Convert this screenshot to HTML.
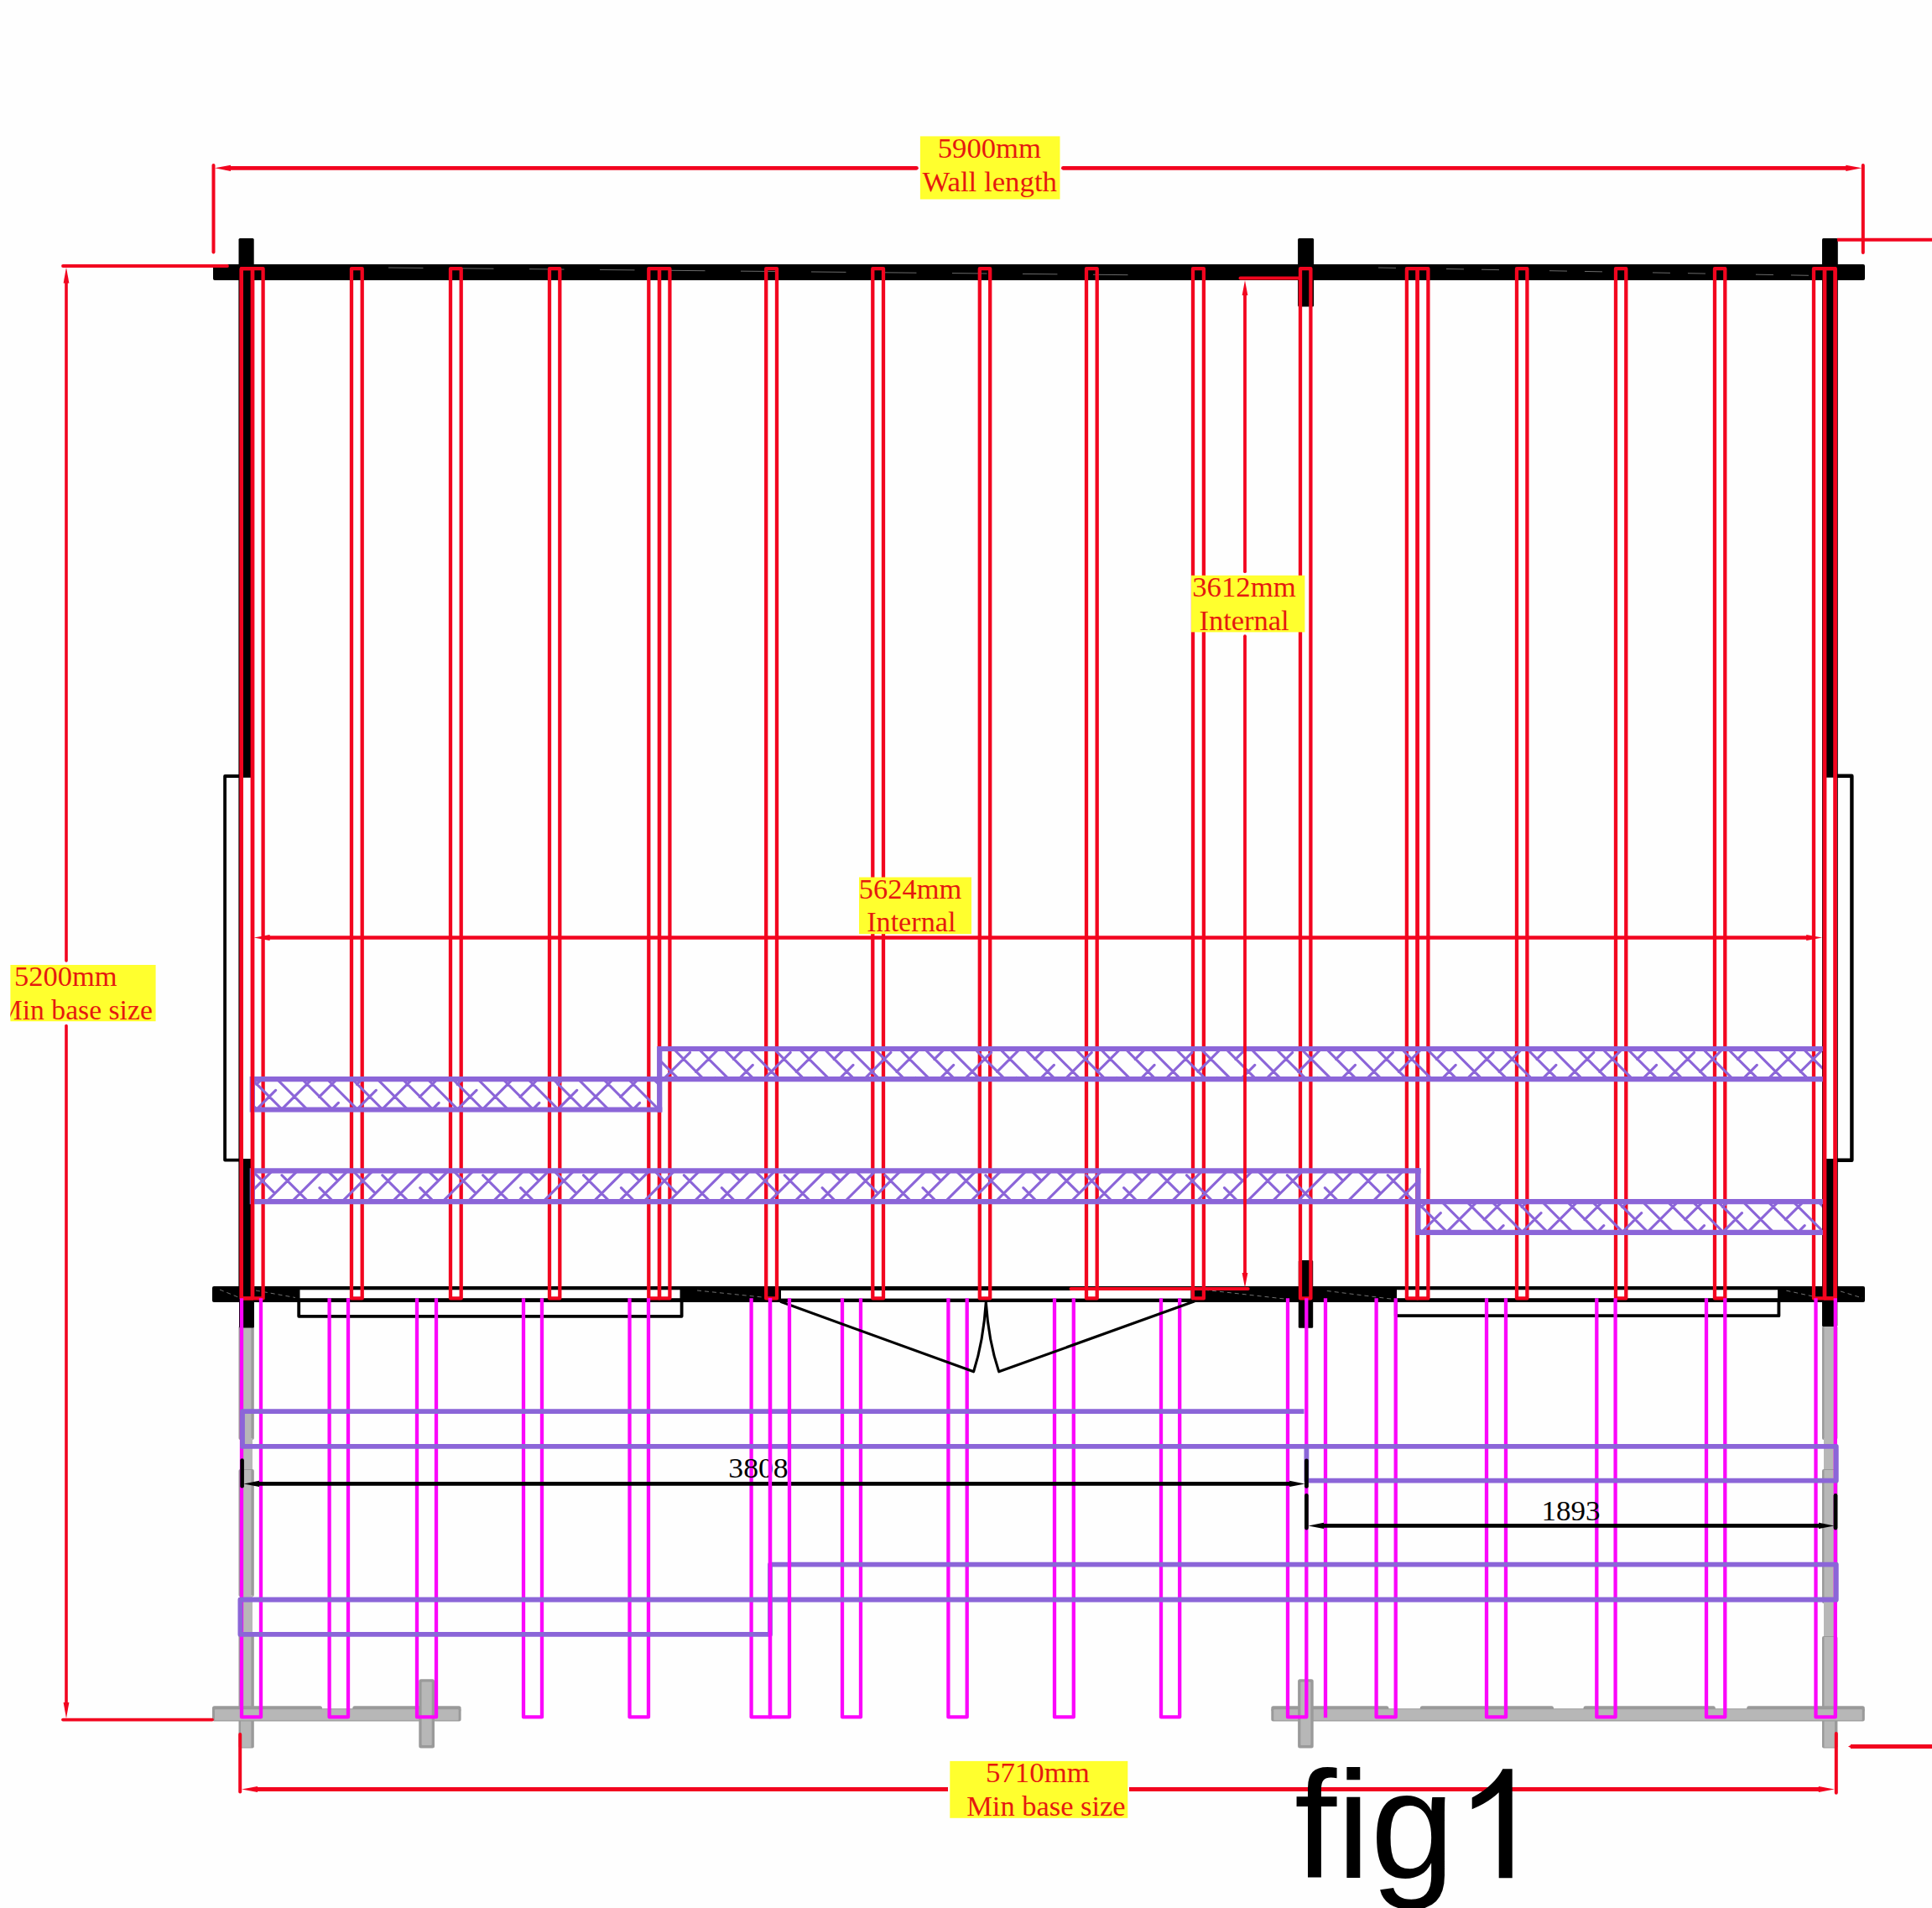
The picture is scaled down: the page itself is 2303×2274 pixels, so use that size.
<!DOCTYPE html>
<html><head><meta charset="utf-8"><title>fig1</title>
<style>
html,body{margin:0;padding:0;background:#fefefe;}
body{width:2303px;height:2274px;overflow:hidden;font-family:"Liberation Sans",sans-serif;}
svg{display:block;}
</style></head><body>
<svg width="2303" height="2274" viewBox="0 0 2303 2274">
<rect x="0" y="0" width="2303" height="2274" fill="#fefefe"/>
<g id="gray">
<rect x="284.5" y="1580" width="18.3" height="136" fill="#9a9a9a" rx="2"/>
<rect x="287" y="1581" width="12.4" height="134" fill="#b7b7b7" />
<rect x="289.5" y="1714" width="11.5" height="39" fill="#b7b7b7" />
<rect x="284.5" y="1751" width="18.3" height="152" fill="#9a9a9a" rx="2"/>
<rect x="287" y="1752" width="12.4" height="150" fill="#b7b7b7" />
<rect x="289.5" y="1901" width="11.5" height="48" fill="#b7b7b7" />
<rect x="284.5" y="1947" width="18.3" height="136.5" fill="#9a9a9a" rx="2"/>
<rect x="287" y="1948" width="12.4" height="134.5" fill="#b7b7b7" />
<rect x="2172" y="1580" width="18.4" height="136" fill="#9a9a9a" rx="2"/>
<rect x="2174.5" y="1581" width="12.5" height="134" fill="#b7b7b7" />
<rect x="2174" y="1714" width="13.5" height="39" fill="#b7b7b7" />
<rect x="2172" y="1751" width="18.4" height="160" fill="#9a9a9a" rx="2"/>
<rect x="2174.5" y="1752" width="12.5" height="158" fill="#b7b7b7" />
<rect x="2174" y="1909" width="13.5" height="43" fill="#b7b7b7" />
<rect x="2172" y="1950" width="18.4" height="133.5" fill="#9a9a9a" rx="2"/>
<rect x="2174.5" y="1951" width="12.5" height="131.5" fill="#b7b7b7" />
<rect x="253" y="2036.2" width="296.6" height="15.3" fill="#9a9a9a" rx="2.5"/>
<rect x="253" y="2033.3" width="131" height="6.7" fill="#9a9a9a" rx="2.5"/>
<rect x="420.3" y="2033.3" width="129.3" height="6.7" fill="#9a9a9a" rx="2.5"/>
<rect x="256" y="2037.2" width="290.6" height="13" fill="#b7b7b7" rx="1"/>
<rect x="499.3" y="2001.3" width="18.7" height="82.1" fill="#9a9a9a" rx="2.5"/>
<rect x="502.6" y="2004.6" width="12.1" height="75.5" fill="#b7b7b7" rx="1"/>
<rect x="1515.3" y="2036.2" width="707.5" height="15.3" fill="#9a9a9a" rx="2.5"/>
<rect x="1515.3" y="2033.3" width="140.1" height="6.7" fill="#9a9a9a" rx="2.5"/>
<rect x="1692.8" y="2033.3" width="159.2" height="6.7" fill="#9a9a9a" rx="2.5"/>
<rect x="1887.5" y="2033.3" width="157.3" height="6.7" fill="#9a9a9a" rx="2.5"/>
<rect x="2082.2" y="2033.3" width="140.6" height="6.7" fill="#9a9a9a" rx="2.5"/>
<rect x="1518.3" y="2037.2" width="701.5" height="13" fill="#b7b7b7" rx="1"/>
<rect x="1547.1" y="2001.3" width="18.6" height="82.1" fill="#9a9a9a" rx="2.5"/>
<rect x="1550.4" y="2004.6" width="12" height="75.5" fill="#b7b7b7" rx="1"/>
</g>
<g id="walls" fill="#000000">
<rect x="254" y="315" width="1969" height="19" fill="#000000" rx="2"/>
<rect x="284.5" y="284" width="18.2" height="36" fill="#000000" rx="1.5"/>
<rect x="1547.1" y="284" width="19" height="81.6" fill="#000000" rx="1.5"/>
<rect x="2172" y="284" width="18.8" height="36" fill="#000000" rx="1.5"/>
<rect x="284.4" y="315" width="14.6" height="611.8" fill="#000000" />
<rect x="284.4" y="1381" width="14.6" height="171" fill="#000000" />
<rect x="284.4" y="925" width="1.8" height="458" fill="#000000" />
<rect x="2172" y="315" width="18.8" height="611.7" fill="#000000" />
<rect x="2172" y="1381" width="18.8" height="171" fill="#000000" />
<rect x="2172" y="925" width="1.6" height="458" fill="#000000" />
<rect x="2189.6" y="925" width="1.2" height="458" fill="#000000" />
<rect x="253" y="1533" width="1970" height="19" fill="#000000" rx="2"/>
<rect x="357.5" y="1537.3" width="453" height="9.9" fill="#fff" />
<rect x="931" y="1538" width="488.4" height="9.6" fill="#fff" />
<rect x="1665" y="1537.3" width="454" height="9.9" fill="#fff" />
<rect x="285" y="1533" width="18" height="49.5" fill="#000000" rx="1.5"/>
<rect x="1547.8" y="1502" width="17.4" height="80.8" fill="#000000" rx="1.5"/>
<rect x="2172" y="1533" width="18.3" height="48" fill="#000000" rx="1.5"/>
</g>
<line x1="463" y1="319" x2="1348" y2="327.7" stroke="#6a6a6a" stroke-width="1" stroke-dasharray="41.5 42.5"/>
<line x1="1643" y1="319" x2="2172" y2="328.6" stroke="#6a6a6a" stroke-width="1" stroke-dasharray="21 60 21 21"/>
<path d="M262 1537L284 1546M305 1538L352 1546.5M831 1538L928 1548M1436 1537.3L1531 1548M1581.8 1538.5L1660 1548.3M2129.4 1538.2L2161 1545M2194 1539L2220 1547" fill="none" stroke="#707070" stroke-width="1" stroke-dasharray="5 4"/>
<g fill="none" stroke="#000000" stroke-width="3.8" stroke-linejoin="round">
<path d="M356.2 1550 V1568.8 H812.6 V1550" />
<path d="M1663.8 1550 V1568.2 H2120.4 V1550" />
<path d="M286 925 H268.1 V1382.6 H286" />
<path d="M2190 924.8 H2207.4 V1382.7 H2190" stroke-width="4.4" />
</g>
<g id="joists" fill="none" stroke="#f2051f" stroke-width="4.3" stroke-linejoin="round">
<rect x="287.8" y="320.2" width="13.2" height="1227.2" />
<rect x="301" y="320.2" width="12.6" height="1227.2" />
<rect x="419" y="320.2" width="12.7" height="1227.2" />
<rect x="537" y="320.2" width="12.7" height="1227.2" />
<rect x="655" y="320.2" width="12.3" height="1227.2" />
<rect x="773.3" y="320.2" width="12.7" height="1227.2" />
<rect x="786" y="320.2" width="12.4" height="1227.2" />
<rect x="913.2" y="320.2" width="12.8" height="1227.2" />
<rect x="1040.3" y="320.2" width="12.7" height="1227.2" />
<rect x="1167.8" y="320.2" width="12.4" height="1227.2" />
<rect x="1295" y="320.2" width="12.7" height="1227.2" />
<rect x="1422" y="320.2" width="12.9" height="1227.2" />
<rect x="1550" y="320.2" width="12.4" height="1227.2" />
<rect x="1676.9" y="320.2" width="12.7" height="1227.2" />
<rect x="1689.6" y="320.2" width="12.8" height="1227.2" />
<rect x="1808" y="320.2" width="12.4" height="1227.2" />
<rect x="1926" y="320.2" width="12.3" height="1227.2" />
<rect x="2044" y="320.2" width="12.3" height="1227.2" />
<rect x="2162" y="320.2" width="13" height="1227.2" />
<rect x="2175" y="320.2" width="12.6" height="1227.2" />
</g>
<line x1="318" y1="1117.5" x2="2158" y2="1117.5" stroke="#f2051f" stroke-width="4.7" />
<polygon points="302.6,1117.5 321.6,1113.9 321.6,1121.1" fill="#f2051f"/>
<polygon points="2172.2,1117.5 2153.2,1121.1 2153.2,1113.9" fill="#f2051f"/>
<defs>
<clipPath id="cb1"><rect x="300.8" y="1286.2" width="485.4" height="36.3"/></clipPath>
<clipPath id="cb2"><rect x="786.2" y="1250" width="1385.8" height="36.2"/></clipPath>
<clipPath id="cb3"><rect x="300.8" y="1395.3" width="1389.6" height="36.8"/></clipPath>
<clipPath id="cb4"><rect x="1690.4" y="1432.1" width="481.6" height="36.7"/></clipPath>
</defs>
<g clip-path="url(#cb1)"><path d="M210.47 1286.2L246.77 1322.5M240.4 1286.2L276.7 1322.5M270.33 1286.2L306.62 1322.5M300.25 1286.2L336.55 1322.5M330.17 1286.2L366.47 1322.5M360.1 1286.2L396.4 1322.5M390.03 1286.2L426.33 1322.5M419.95 1286.2L456.25 1322.5M449.88 1286.2L486.17 1322.5M479.8 1286.2L516.1 1322.5M509.73 1286.2L546.02 1322.5M539.65 1286.2L575.95 1322.5M569.58 1286.2L605.88 1322.5M599.5 1286.2L635.8 1322.5M629.43 1286.2L665.73 1322.5M659.35 1286.2L695.65 1322.5M689.28 1286.2L725.58 1322.5M719.2 1286.2L755.5 1322.5M749.12 1286.2L785.42 1322.5M779.05 1286.2L815.35 1322.5M808.98 1286.2L845.27 1322.5M838.9 1286.2L875.2 1322.5M253.85 1284.4L215.85 1322.4M298.78 1269.4L260.78 1307.4M343.7 1254.4L305.7 1292.4M283.7 1314.4L245.7 1352.4M328.62 1299.4L290.62 1337.4M373.55 1284.4L335.55 1322.4M418.47 1269.4L380.47 1307.4M463.4 1254.4L425.4 1292.4M403.4 1314.4L365.4 1352.4M448.33 1299.4L410.33 1337.4M493.25 1284.4L455.25 1322.4M538.17 1269.4L500.17 1307.4M583.1 1254.4L545.1 1292.4M523.1 1314.4L485.1 1352.4M568.03 1299.4L530.03 1337.4M612.95 1284.4L574.95 1322.4M657.88 1269.4L619.88 1307.4M702.8 1254.4L664.8 1292.4M642.8 1314.4L604.8 1352.4M687.72 1299.4L649.72 1337.4M732.65 1284.4L694.65 1322.4M777.58 1269.4L739.58 1307.4M822.5 1254.4L784.5 1292.4M762.5 1314.4L724.5 1352.4M807.43 1299.4L769.43 1337.4M852.35 1284.4L814.35 1322.4M897.28 1269.4L859.28 1307.4" fill="none" stroke="#8b65d8" stroke-width="3.1" stroke-linecap="round"/></g>
<g clip-path="url(#cb2)"><path d="M712.92 1250L749.12 1286.2M742.85 1250L779.05 1286.2M772.77 1250L808.98 1286.2M802.7 1250L838.9 1286.2M832.62 1250L868.83 1286.2M862.55 1250L898.75 1286.2M892.48 1250L928.68 1286.2M922.4 1250L958.6 1286.2M952.33 1250L988.53 1286.2M982.25 1250L1018.45 1286.2M1012.17 1250L1048.38 1286.2M1042.1 1250L1078.3 1286.2M1072.03 1250L1108.22 1286.2M1101.95 1250L1138.15 1286.2M1131.88 1250L1168.08 1286.2M1161.8 1250L1198 1286.2M1191.72 1250L1227.93 1286.2M1221.65 1250L1257.85 1286.2M1251.58 1250L1287.78 1286.2M1281.5 1250L1317.7 1286.2M1311.42 1250L1347.62 1286.2M1341.35 1250L1377.55 1286.2M1371.28 1250L1407.48 1286.2M1401.2 1250L1437.4 1286.2M1431.12 1250L1467.33 1286.2M1461.05 1250L1497.25 1286.2M1490.97 1250L1527.17 1286.2M1520.9 1250L1557.1 1286.2M1550.83 1250L1587.03 1286.2M1580.75 1250L1616.95 1286.2M1610.67 1250L1646.88 1286.2M1640.6 1250L1676.8 1286.2M1670.53 1250L1706.73 1286.2M1700.45 1250L1736.65 1286.2M1730.38 1250L1766.58 1286.2M1760.3 1250L1796.5 1286.2M1790.22 1250L1826.42 1286.2M1820.15 1250L1856.35 1286.2M1850.08 1250L1886.28 1286.2M1880 1250L1916.2 1286.2M1909.93 1250L1946.13 1286.2M1939.85 1250L1976.05 1286.2M1969.78 1250L2005.98 1286.2M1999.7 1250L2035.9 1286.2M2029.62 1250L2065.82 1286.2M2059.55 1250L2095.75 1286.2M2089.48 1250L2125.68 1286.2M2119.4 1250L2155.6 1286.2M2149.32 1250L2185.53 1286.2M2179.25 1250L2215.45 1286.2M2209.18 1250L2245.38 1286.2M747.72 1239.4L709.72 1277.4M792.65 1224.4L754.65 1262.4M732.65 1284.4L694.65 1322.4M837.58 1209.4L799.58 1247.4M777.58 1269.4L739.58 1307.4M822.5 1254.4L784.5 1292.4M867.43 1239.4L829.43 1277.4M912.35 1224.4L874.35 1262.4M852.35 1284.4L814.35 1322.4M957.28 1209.4L919.28 1247.4M897.28 1269.4L859.28 1307.4M942.2 1254.4L904.2 1292.4M987.12 1239.4L949.12 1277.4M1032.05 1224.4L994.05 1262.4M972.05 1284.4L934.05 1322.4M1076.97 1209.4L1038.97 1247.4M1016.97 1269.4L978.97 1307.4M1061.9 1254.4L1023.9 1292.4M1106.82 1239.4L1068.82 1277.4M1151.75 1224.4L1113.75 1262.4M1091.75 1284.4L1053.75 1322.4M1196.68 1209.4L1158.68 1247.4M1136.68 1269.4L1098.68 1307.4M1181.6 1254.4L1143.6 1292.4M1226.53 1239.4L1188.53 1277.4M1271.45 1224.4L1233.45 1262.4M1211.45 1284.4L1173.45 1322.4M1316.38 1209.4L1278.38 1247.4M1256.38 1269.4L1218.38 1307.4M1301.3 1254.4L1263.3 1292.4M1346.22 1239.4L1308.22 1277.4M1391.15 1224.4L1353.15 1262.4M1331.15 1284.4L1293.15 1322.4M1436.08 1209.4L1398.08 1247.4M1376.08 1269.4L1338.08 1307.4M1421 1254.4L1383 1292.4M1465.93 1239.4L1427.93 1277.4M1510.85 1224.4L1472.85 1262.4M1450.85 1284.4L1412.85 1322.4M1555.78 1209.4L1517.78 1247.4M1495.78 1269.4L1457.78 1307.4M1540.7 1254.4L1502.7 1292.4M1585.62 1239.4L1547.62 1277.4M1630.55 1224.4L1592.55 1262.4M1570.55 1284.4L1532.55 1322.4M1675.47 1209.4L1637.47 1247.4M1615.47 1269.4L1577.47 1307.4M1660.4 1254.4L1622.4 1292.4M1705.33 1239.4L1667.33 1277.4M1750.25 1224.4L1712.25 1262.4M1690.25 1284.4L1652.25 1322.4M1795.18 1209.4L1757.18 1247.4M1735.18 1269.4L1697.18 1307.4M1780.1 1254.4L1742.1 1292.4M1825.03 1239.4L1787.03 1277.4M1869.95 1224.4L1831.95 1262.4M1809.95 1284.4L1771.95 1322.4M1914.88 1209.4L1876.88 1247.4M1854.88 1269.4L1816.88 1307.4M1899.8 1254.4L1861.8 1292.4M1944.72 1239.4L1906.72 1277.4M1989.65 1224.4L1951.65 1262.4M1929.65 1284.4L1891.65 1322.4M2034.58 1209.4L1996.58 1247.4M1974.58 1269.4L1936.58 1307.4M2019.5 1254.4L1981.5 1292.4M2064.42 1239.4L2026.42 1277.4M2109.35 1224.4L2071.35 1262.4M2049.35 1284.4L2011.35 1322.4M2154.28 1209.4L2116.28 1247.4M2094.28 1269.4L2056.28 1307.4M2139.2 1254.4L2101.2 1292.4M2184.12 1239.4L2146.12 1277.4M2229.05 1224.4L2191.05 1262.4M2169.05 1284.4L2131.05 1322.4M2273.97 1209.4L2235.97 1247.4M2213.97 1269.4L2175.97 1307.4M2258.9 1254.4L2220.9 1292.4" fill="none" stroke="#8b65d8" stroke-width="3.1" stroke-linecap="round"/></g>
<g clip-path="url(#cb3)"><path d="M264.82 1395.3L228.02 1432.1M294.78 1395.3L257.98 1432.1M324.74 1395.3L287.94 1432.1M354.7 1395.3L317.9 1432.1M384.66 1395.3L347.86 1432.1M414.62 1395.3L377.82 1432.1M444.58 1395.3L407.78 1432.1M474.54 1395.3L437.74 1432.1M504.5 1395.3L467.7 1432.1M534.46 1395.3L497.66 1432.1M564.42 1395.3L527.62 1432.1M594.38 1395.3L557.58 1432.1M624.34 1395.3L587.54 1432.1M654.3 1395.3L617.5 1432.1M684.26 1395.3L647.46 1432.1M714.22 1395.3L677.42 1432.1M744.18 1395.3L707.38 1432.1M774.14 1395.3L737.34 1432.1M804.1 1395.3L767.3 1432.1M834.06 1395.3L797.26 1432.1M864.02 1395.3L827.22 1432.1M893.98 1395.3L857.18 1432.1M923.94 1395.3L887.14 1432.1M953.9 1395.3L917.1 1432.1M983.86 1395.3L947.06 1432.1M1013.82 1395.3L977.02 1432.1M1043.78 1395.3L1006.98 1432.1M1073.74 1395.3L1036.94 1432.1M1103.7 1395.3L1066.9 1432.1M1133.66 1395.3L1096.86 1432.1M1163.62 1395.3L1126.82 1432.1M1193.58 1395.3L1156.78 1432.1M1223.54 1395.3L1186.74 1432.1M1253.5 1395.3L1216.7 1432.1M1283.46 1395.3L1246.66 1432.1M1313.42 1395.3L1276.62 1432.1M1343.38 1395.3L1306.58 1432.1M1373.34 1395.3L1336.54 1432.1M1403.3 1395.3L1366.5 1432.1M1433.26 1395.3L1396.46 1432.1M1463.22 1395.3L1426.42 1432.1M1493.18 1395.3L1456.38 1432.1M1523.14 1395.3L1486.34 1432.1M1553.1 1395.3L1516.3 1432.1M1583.06 1395.3L1546.26 1432.1M1613.02 1395.3L1576.22 1432.1M1642.98 1395.3L1606.18 1432.1M1672.94 1395.3L1636.14 1432.1M1702.9 1395.3L1666.1 1432.1M1732.86 1395.3L1696.06 1432.1M1762.82 1395.3L1726.02 1432.1M216.12 1400.7L252.12 1436.7M261.08 1415.7L297.08 1451.7M246.04 1370.7L282.04 1406.7M306.04 1430.7L342.04 1466.7M291 1385.7L327 1421.7M335.96 1400.7L371.96 1436.7M380.92 1415.7L416.92 1451.7M365.88 1370.7L401.88 1406.7M425.88 1430.7L461.88 1466.7M410.84 1385.7L446.84 1421.7M455.8 1400.7L491.8 1436.7M500.76 1415.7L536.76 1451.7M485.72 1370.7L521.72 1406.7M545.72 1430.7L581.72 1466.7M530.68 1385.7L566.68 1421.7M575.64 1400.7L611.64 1436.7M620.6 1415.7L656.6 1451.7M605.56 1370.7L641.56 1406.7M665.56 1430.7L701.56 1466.7M650.52 1385.7L686.52 1421.7M695.48 1400.7L731.48 1436.7M740.44 1415.7L776.44 1451.7M725.4 1370.7L761.4 1406.7M785.4 1430.7L821.4 1466.7M770.36 1385.7L806.36 1421.7M815.32 1400.7L851.32 1436.7M860.28 1415.7L896.28 1451.7M845.24 1370.7L881.24 1406.7M905.24 1430.7L941.24 1466.7M890.2 1385.7L926.2 1421.7M935.16 1400.7L971.16 1436.7M980.12 1415.7L1016.12 1451.7M965.08 1370.7L1001.08 1406.7M1025.08 1430.7L1061.08 1466.7M1010.04 1385.7L1046.04 1421.7M1055 1400.7L1091 1436.7M1099.96 1415.7L1135.96 1451.7M1084.92 1370.7L1120.92 1406.7M1144.92 1430.7L1180.92 1466.7M1129.88 1385.7L1165.88 1421.7M1174.84 1400.7L1210.84 1436.7M1219.8 1415.7L1255.8 1451.7M1204.76 1370.7L1240.76 1406.7M1264.76 1430.7L1300.76 1466.7M1249.72 1385.7L1285.72 1421.7M1294.68 1400.7L1330.68 1436.7M1339.64 1415.7L1375.64 1451.7M1324.6 1370.7L1360.6 1406.7M1384.6 1430.7L1420.6 1466.7M1369.56 1385.7L1405.56 1421.7M1414.52 1400.7L1450.52 1436.7M1459.48 1415.7L1495.48 1451.7M1444.44 1370.7L1480.44 1406.7M1504.44 1430.7L1540.44 1466.7M1489.4 1385.7L1525.4 1421.7M1534.36 1400.7L1570.36 1436.7M1579.32 1415.7L1615.32 1451.7M1564.28 1370.7L1600.28 1406.7M1624.28 1430.7L1660.28 1466.7M1609.24 1385.7L1645.24 1421.7M1654.2 1400.7L1690.2 1436.7M1699.16 1415.7L1735.16 1451.7M1684.12 1370.7L1720.12 1406.7M1744.12 1430.7L1780.12 1466.7M1729.08 1385.7L1765.08 1421.7" fill="none" stroke="#8b65d8" stroke-width="3.1" stroke-linecap="round"/></g>
<g clip-path="url(#cb4)"><path d="M1598.78 1432.1L1635.47 1468.8M1628.7 1432.1L1665.4 1468.8M1658.62 1432.1L1695.33 1468.8M1688.55 1432.1L1725.25 1468.8M1718.47 1432.1L1755.18 1468.8M1748.4 1432.1L1785.1 1468.8M1778.33 1432.1L1815.03 1468.8M1808.25 1432.1L1844.95 1468.8M1838.17 1432.1L1874.88 1468.8M1868.1 1432.1L1904.8 1468.8M1898.03 1432.1L1934.73 1468.8M1927.95 1432.1L1964.65 1468.8M1957.88 1432.1L1994.58 1468.8M1987.8 1432.1L2024.5 1468.8M2017.72 1432.1L2054.43 1468.8M2047.65 1432.1L2084.35 1468.8M2077.57 1432.1L2114.28 1468.8M2107.5 1432.1L2144.2 1468.8M2137.43 1432.1L2174.12 1468.8M2167.35 1432.1L2204.05 1468.8M2197.28 1432.1L2233.98 1468.8M2227.2 1432.1L2263.9 1468.8M1642.55 1430.7L1604.55 1468.7M1687.48 1415.7L1649.48 1453.7M1732.4 1400.7L1694.4 1438.7M1672.4 1460.7L1634.4 1498.7M1717.33 1445.7L1679.33 1483.7M1762.25 1430.7L1724.25 1468.7M1807.17 1415.7L1769.17 1453.7M1852.1 1400.7L1814.1 1438.7M1792.1 1460.7L1754.1 1498.7M1837.02 1445.7L1799.02 1483.7M1881.95 1430.7L1843.95 1468.7M1926.88 1415.7L1888.88 1453.7M1971.8 1400.7L1933.8 1438.7M1911.8 1460.7L1873.8 1498.7M1956.73 1445.7L1918.73 1483.7M2001.65 1430.7L1963.65 1468.7M2046.58 1415.7L2008.58 1453.7M2091.5 1400.7L2053.5 1438.7M2031.5 1460.7L1993.5 1498.7M2076.43 1445.7L2038.42 1483.7M2121.35 1430.7L2083.35 1468.7M2166.27 1415.7L2128.27 1453.7M2211.2 1400.7L2173.2 1438.7M2151.2 1460.7L2113.2 1498.7M2196.12 1445.7L2158.12 1483.7M2241.05 1430.7L2203.05 1468.7" fill="none" stroke="#8b65d8" stroke-width="3.1" stroke-linecap="round"/></g>
<g fill="none" stroke="#8b65d8" stroke-width="6.2" stroke-linejoin="miter" stroke-linecap="square">
<path d="M2173 1250 H786.2 V1286.2 H300.8 V1322.5 H786.2" />
<path d="M786.2 1322.5 V1286.2 H2173" />
<path d="M2173 1468.8 H1690.4 V1432.1 H300.8 V1395.3 H1690.4" />
<path d="M1690.4 1395.3 V1432.1 H2173" />
</g>
<rect x="287.8" y="320.2" width="13.2" height="1227.2" fill="none" stroke="#f2051f" stroke-width="4.3" stroke-linejoin="round"/>
<rect x="2175" y="320.2" width="12.6" height="1227.2" fill="none" stroke="#f2051f" stroke-width="4.3" stroke-linejoin="round"/>
<line x1="1484" y1="350" x2="1484" y2="681.2" stroke="#f2051f" stroke-width="3.8" stroke-linecap="round"/>
<line x1="1484" y1="758.2" x2="1484" y2="1520" stroke="#f2051f" stroke-width="3.8" stroke-linecap="round"/>
<polygon points="1484,334 1487.4,352 1480.6,352" fill="#f2051f"/>
<polygon points="1484,1535 1480.6,1517 1487.4,1517" fill="#f2051f"/>
<line x1="1478.5" y1="331.6" x2="1550" y2="331.6" stroke="#f2051f" stroke-width="4" stroke-linecap="round"/>
<line x1="1276.5" y1="1536" x2="1487.7" y2="1536" stroke="#f2051f" stroke-width="4" stroke-linecap="round"/>
<g id="mj" fill="none" stroke="#fb06fb" stroke-width="4.3" stroke-linejoin="round">
<path d="M288 1547.3 V2046.4 H311 V1547.3" />
<path d="M392.6 1547.3 V2046.4 H415 V1547.3" />
<path d="M497 1547.3 V2046.4 H520 V1547.3" />
<path d="M624 1547.3 V2046.4 H646 V1547.3" />
<path d="M750.5 1547.3 V2046.4 H773 V1547.3" />
<path d="M895.6 1547.3 V2046.4 H918 V1547.3" />
<path d="M1004 1547.3 V2046.4 H1026 V1547.3" />
<path d="M1130.4 1547.3 V2046.4 H1152.7 V1547.3" />
<path d="M1257 1547.3 V2046.4 H1279.8 V1547.3" />
<path d="M1384 1547.3 V2046.4 H1406.2 V1547.3" />
<path d="M1535 1547.3 V2046.4 H1557.3 V1547.3" />
<path d="M1580 1547.3 V2047.3" />
<path d="M1640.6 1547.3 V2046.4 H1663.7 V1547.3" />
<path d="M1772 1547.3 V2046.4 H1795 V1547.3" />
<path d="M1903.3 1547.3 V2046.4 H1925.6 V1547.3" />
<path d="M2034 1547.3 V2046.4 H2056.3 V1547.3" />
<path d="M2164.5 1547.3 V2046.4 H2187.8 V1547.3" />
</g>
<g fill="none" stroke="#8b65d8" stroke-width="5.8" stroke-linejoin="round">
<path d="M1554.5 1682.2 H289 V1723.9 H1557" />
<rect x="1557.4" y="1723.9" width="631.4" height="40.8" />
<rect x="286.4" y="1906.5" width="631.6" height="41.4" />
<rect x="918" y="1864.6" width="1270.8" height="41.9" />
</g>
<g fill="none" stroke="#000000" stroke-width="3.1" stroke-linejoin="round" stroke-linecap="round">
<path d="M931 1551.5 L1160.6 1634.8 Q1172.3 1598 1175.3 1552 Q1178.3 1598 1190.7 1634.8 L1423.5 1551" />
</g>
<line x1="305" y1="1768.4" x2="1540" y2="1768.4" stroke="#000000" stroke-width="4.6" />
<polygon points="290.5,1768.4 309,1764.7 309,1772.1" fill="#000000"/>
<polygon points="1555.6,1768.4 1537.1,1772.1 1537.1,1764.7" fill="#000000"/>
<line x1="288.6" y1="1740.5" x2="288.6" y2="1771.3" stroke="#000000" stroke-width="4.6" stroke-linecap="round"/>
<line x1="1557.4" y1="1740.8" x2="1557.4" y2="1771.4" stroke="#000000" stroke-width="4.8" stroke-linecap="round"/>
<line x1="1574" y1="1818.4" x2="2173" y2="1818.4" stroke="#000000" stroke-width="4.6" />
<polygon points="1559.5,1818.4 1578,1814.7 1578,1822.1" fill="#000000"/>
<polygon points="2186.5,1818.4 2168,1822.1 2168,1814.7" fill="#000000"/>
<line x1="1557.4" y1="1782.4" x2="1557.4" y2="1821" stroke="#000000" stroke-width="4.8" stroke-linecap="round"/>
<line x1="2188" y1="1782.4" x2="2188" y2="1821" stroke="#000000" stroke-width="4.8" stroke-linecap="round"/>
<line x1="270" y1="200.3" x2="1092.4" y2="200.3" stroke="#f2051f" stroke-width="4.8" stroke-linecap="round"/>
<line x1="1267.4" y1="200.3" x2="2204" y2="200.3" stroke="#f2051f" stroke-width="4.8" stroke-linecap="round"/>
<polygon points="256,200.3 275,196.7 275,203.9" fill="#f2051f"/>
<polygon points="2219.3,200.3 2200.3,203.9 2200.3,196.7" fill="#f2051f"/>
<line x1="254.5" y1="197" x2="254.5" y2="300.5" stroke="#f2051f" stroke-width="4" stroke-linecap="round"/>
<line x1="2220.8" y1="197" x2="2220.8" y2="301" stroke="#f2051f" stroke-width="4" stroke-linecap="round"/>
<line x1="79" y1="334" x2="79" y2="1145" stroke="#f2051f" stroke-width="3.6" stroke-linecap="round"/>
<line x1="79" y1="1222.5" x2="79" y2="2032" stroke="#f2051f" stroke-width="3.6" stroke-linecap="round"/>
<polygon points="79,318.5 82.4,337.5 75.6,337.5" fill="#f2051f"/>
<polygon points="79,2048 75.6,2029 82.4,2029" fill="#f2051f"/>
<line x1="75" y1="317" x2="271" y2="317" stroke="#f2051f" stroke-width="3.8" stroke-linecap="round"/>
<line x1="75" y1="2049.6" x2="253" y2="2049.6" stroke="#f2051f" stroke-width="3.8" stroke-linecap="round"/>
<line x1="303" y1="2132.5" x2="1130" y2="2132.5" stroke="#f2051f" stroke-width="4.8" />
<line x1="1346" y1="2132.5" x2="2171" y2="2132.5" stroke="#f2051f" stroke-width="4.8" />
<polygon points="288,2132.5 307,2128.9 307,2136.1" fill="#f2051f"/>
<polygon points="2186.8,2132.5 2167.8,2136.1 2167.8,2128.9" fill="#f2051f"/>
<line x1="286.2" y1="2067" x2="286.2" y2="2135.5" stroke="#f2051f" stroke-width="4" stroke-linecap="round"/>
<line x1="2188.8" y1="2066" x2="2188.8" y2="2136.8" stroke="#f2051f" stroke-width="4" stroke-linecap="round"/>
<line x1="2190" y1="285.8" x2="2303" y2="285.8" stroke="#f2051f" stroke-width="4" />
<line x1="2206" y1="2081.6" x2="2303" y2="2081.6" stroke="#f2051f" stroke-width="5" />
<polygon points="2203,2081.6 2208,2079.1 2208,2084.1" fill="#f2051f"/>
<rect x="1096.9" y="162.4" width="166.6" height="75.1" fill="#ffff2e" />
<text x="1117.8" y="188.4" textLength="123.2" lengthAdjust="spacingAndGlyphs" fill="#e5190f" font-family="'Liberation Serif', serif" font-size="33.5">5900mm</text>
<text x="1099.4" y="227.6" textLength="160.6" lengthAdjust="spacingAndGlyphs" fill="#e5190f" font-family="'Liberation Serif', serif" font-size="33.5">Wall length</text>
<rect x="1420" y="685.8" width="135.4" height="67.6" fill="#ffff2e" />
<text x="1421.2" y="711" textLength="123.6" lengthAdjust="spacingAndGlyphs" fill="#e5190f" font-family="'Liberation Serif', serif" font-size="33.5">3612mm</text>
<text x="1429.4" y="750.6" textLength="107.3" lengthAdjust="spacingAndGlyphs" fill="#e5190f" font-family="'Liberation Serif', serif" font-size="33.5">Internal</text>
<rect x="1024" y="1045.5" width="134" height="67.7" fill="#ffff2e" />
<text x="1023.8" y="1070.7" textLength="122.4" lengthAdjust="spacingAndGlyphs" fill="#e5190f" font-family="'Liberation Serif', serif" font-size="33.5">5624mm</text>
<text x="1033.2" y="1110" textLength="106.2" lengthAdjust="spacingAndGlyphs" fill="#e5190f" font-family="'Liberation Serif', serif" font-size="33.5">Internal</text>
<rect x="1132.3" y="2098.9" width="212" height="67.9" fill="#ffff2e" />
<text x="1175" y="2124.2" textLength="123.9" lengthAdjust="spacingAndGlyphs" fill="#e5190f" font-family="'Liberation Serif', serif" font-size="33.5">5710mm</text>
<text x="1152.2" y="2163.5" textLength="189.4" lengthAdjust="spacingAndGlyphs" fill="#e5190f" font-family="'Liberation Serif', serif" font-size="33.5">Min base size</text>
<defs><clipPath id="cl5"><rect x="12.4" y="1150" width="173.2" height="67.2"/></clipPath></defs>
<rect x="12.4" y="1150" width="173.2" height="67.2" fill="#ffff2e" />
<g clip-path="url(#cl5)">
<text x="17" y="1175.3" textLength="122.6" lengthAdjust="spacingAndGlyphs" fill="#e5190f" font-family="'Liberation Serif', serif" font-size="33.5">5200mm</text>
<text x="-3.2" y="1214.9" textLength="185" lengthAdjust="spacingAndGlyphs" fill="#e5190f" font-family="'Liberation Serif', serif" font-size="33.5">Min base size</text>
</g>
<text x="868.3" y="1761" textLength="71.4" lengthAdjust="spacingAndGlyphs" fill="#000" font-family="'Liberation Serif', serif" font-size="34.5">3808</text>
<text x="1837.6" y="1811.6" textLength="70" lengthAdjust="spacingAndGlyphs" fill="#000" font-family="'Liberation Serif', serif" font-size="34.5">1893</text>
<path d="M918 1547.3 V2046.4 H941 V1547.3" fill="none" stroke="#fb06fb" stroke-width="4.3" stroke-linejoin="round"/>
<text x="1543" y="2238.2" fill="#000" font-family="'Liberation Sans', sans-serif" font-size="181">fig</text>
<path d="M1802.7 2238.2 V2108.2 H1791.3 Q1781.5 2128 1754.7 2142.6 V2156.2 Q1774 2148.5 1786.7 2136.2 V2238.2 Z" fill="#000" />
</svg>
</body></html>
